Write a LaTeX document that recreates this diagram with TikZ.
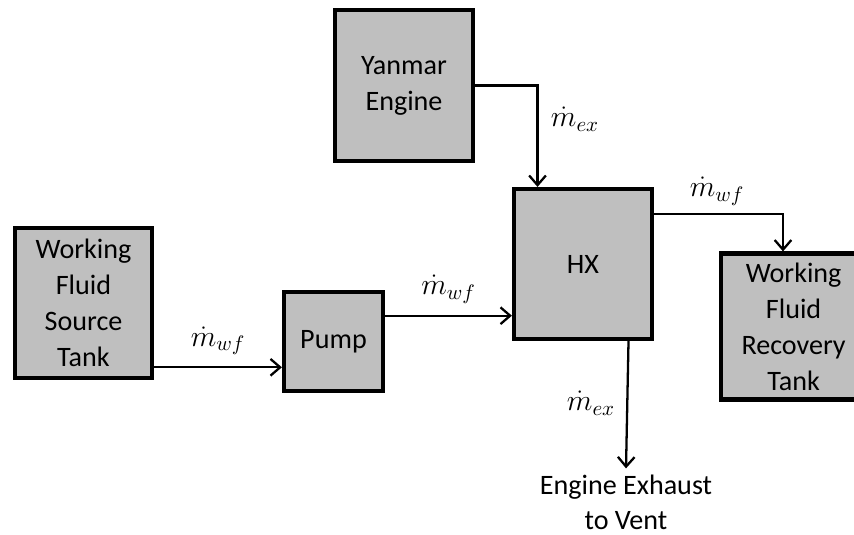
\RequirePackage{fix-cm}
\documentclass[tikz,border=0pt]{standalone}
\usepackage{fontspec}
\setmainfont{Carlito}
\usepackage{xcolor}
\definecolor{boxgray}{HTML}{BFBFBF}
\usepackage{tikz}
\usetikzlibrary{arrows.meta, positioning, calc}

\begin{document}
\begin{tikzpicture}[x=0.02cm, y=-0.02cm,
    unit/.style={draw=black, fill=boxgray, line width=2.4pt, align=center,
                 font=\fontsize{16}{20.5}\selectfont},
    flow/.style={-{Straight Barb[length=5.5pt, width=9.5pt]}, line width=1.3pt},
    rate/.style={font=\fontsize{17}{20}\selectfont}]
  \useasboundingbox[clip] (0,0) rectangle (854,534);

  \node[unit, minimum width=2.74cm, minimum height=3cm] (source) at (83.5,303)
        {Working\\Fluid\\Source\\Tank};
  \node[unit, minimum width=1.98cm, minimum height=1.98cm] (pump) at (333.5,341.5)
        {Pump};
  \node[unit, minimum width=2.76cm, minimum height=3.02cm] (yanmar) at (404,85.5)
        {Yanmar\\Engine};
  \node[unit, minimum width=2.76cm, minimum height=3cm] (hx) at (583,264)
        {HX};
  % the tank runs off the right edge of the picture
  \node[unit, minimum width=3.3cm, minimum height=2.92cm, inner xsep=0pt,
        anchor=west] (recovery) at (719,326.5)
        {\parbox{2.8cm}{\centering Working\\Fluid\\Recovery\\Tank}\hspace{0.4cm}};
  \node[font=\fontsize{16}{20}\selectfont, align=center] (vent) at (626,502)
        {Engine Exhaust\\to Vent};

  % ports on the box sides
  \coordinate (pumpin)  at ($(pump.south west)!0.25!(pump.north west)$);
  \coordinate (pumpout) at ($(pump.north east)!0.25!(pump.south east)$);
  \coordinate (hxin)    at ($(hx.north west)!0.18!(hx.north east)$);
  \coordinate (hxout)   at ($(hx.north east)!0.175!(hx.south east)$);
  \coordinate (hxvent)  at ($(hx.south west)!0.82!(hx.south east)$);
  \coordinate (recin)   at ($(recovery.north west)+(64,0)$);

  \draw[flow] (source.east |- pumpin) -- node[rate, above=3pt] (mwf1) {$\dot{m}_{wf}$} (pumpin);
  \draw[flow] (pumpout) -- node[rate, above=3pt] (mwf2) {$\dot{m}_{wf}$} (pumpout -| hx.west);
  \draw[flow] (yanmar.east) -| (hxin);
  \draw[flow] (hxout) -| (recin);
  \draw[flow] (hxvent) -- (vent.north);

  \node[rate] (mex1) at (575,119) {$\dot{m}_{ex}$};
  \node[rate] (mwf3) at (717,191) {$\dot{m}_{wf}$};
  \node[rate] (mex2) at (591,403) {$\dot{m}_{ex}$};
\end{tikzpicture}
\end{document}
